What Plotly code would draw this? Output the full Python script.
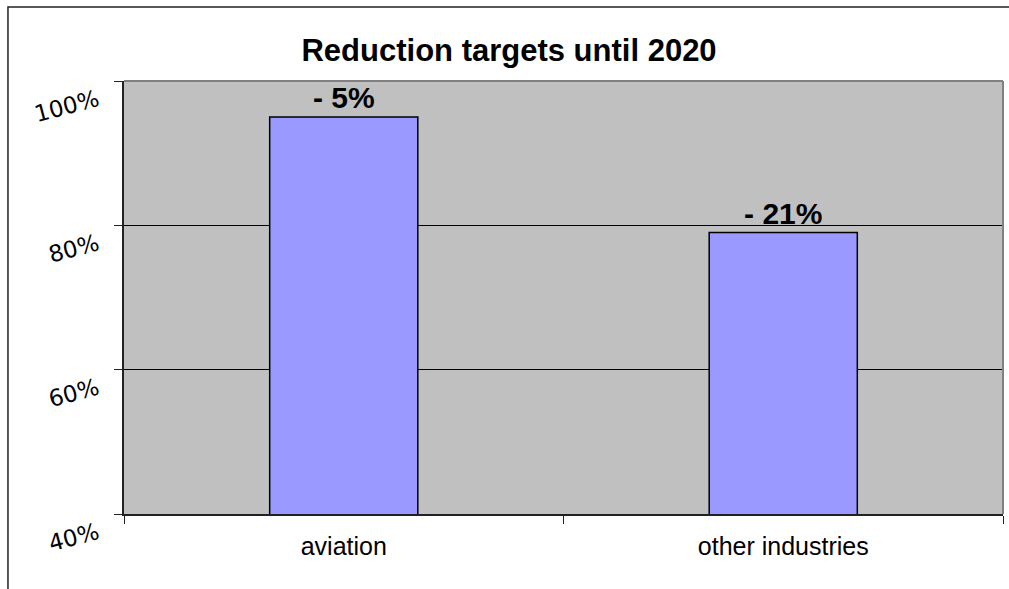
import plotly.graph_objects as go

# Emission levels in 2020 relative to the base year (percent)
categories = ["aviation", "other industries"]
levels = [95, 79]
reduction_labels = ["- 5%", "- 21%"]
y_ticks = [40, 60, 80, 100]
y_tick_text = ["40%", "60%", "80%", "100%"]

FONT = "Liberation Sans, Arial, sans-serif"

fig = go.Figure()
fig.add_trace(go.Bar(
    x=categories,
    y=levels,
    text=reduction_labels,
    textposition="outside",
    cliponaxis=False,
    texttemplate="<b>%{text}</b>",
    textfont=dict(family=FONT, size=30, color="black"),
    marker=dict(color="#9999FF", line=dict(color="black", width=1.5)),
    width=0.337,
    hoverinfo="skip",
))

fig.update_layout(
    width=1009,
    height=589,
    margin=dict(l=124, r=6, t=81, b=75),
    paper_bgcolor="white",
    plot_bgcolor="#C0C0C0",
    showlegend=False,
    title=dict(
        text="<b>Reduction targets until 2020</b>",
        x=0.5045, xanchor="center",
        y=0.915, yanchor="middle",
        font=dict(family=FONT, size=31, color="black"),
    ),
    xaxis=dict(
        type="category",
        showgrid=False,
        showline=True, linecolor="#222222", linewidth=1.5,
        ticks="outside", tickson="boundaries", ticklen=8, tickcolor="#222222",
        tickfont=dict(family=FONT, size=25, color="black"),
        ticklabelstandoff=9,
    ),
    yaxis=dict(
        range=[40, 100],
        tickvals=y_ticks,
        ticktext=y_tick_text,
        tickangle=-15,
        ticklabelposition="outside bottom",
        ticklabelstandoff=20,
        showgrid=True, gridcolor="black", gridwidth=1,
        zeroline=False,
        showline=True, linecolor="#222222", linewidth=1.5,
        ticks="outside", ticklen=8, tickcolor="#222222",
        tickfont=dict(family="DejaVu Sans, sans-serif", size=23, color="black"),
    ),
    shapes=[
        # gray frame along the top and right of the plot area
        dict(type="line", xref="paper", yref="paper", x0=0, x1=1, y0=1, y1=1,
             line=dict(color="#808080", width=2), layer="above"),
        dict(type="line", xref="paper", yref="paper", x0=1, x1=1, y0=0, y1=1,
             line=dict(color="#808080", width=2), layer="above"),
        # outer chart border; its right and bottom edges fall outside the canvas
        dict(type="rect", xref="paper", yref="paper", x0=-0.132, x1=1.05, y0=-0.3, y1=1.171,
             line=dict(color="#222222", width=1.5), layer="below"),
    ],
)

fig.write_html("out.html", config={"displayModeBar": False})
